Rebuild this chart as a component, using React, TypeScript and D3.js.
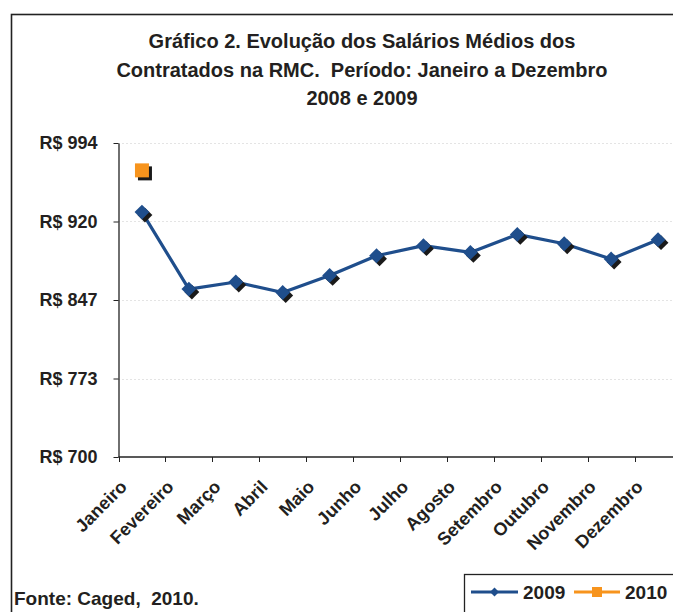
import React, { useRef, useEffect } from "react";
import * as d3 from "d3";

const months = [
  "Janeiro", "Fevereiro", "Março", "Abril", "Maio", "Junho",
  "Julho", "Agosto", "Setembro", "Outubro", "Novembro", "Dezembro",
];
const salarios2009 = [929, 857, 863.6, 853.8, 869.8, 888.2, 897.6, 891.3, 908.1, 899.4, 885.1, 903.2];
const salarios2010 = [968];
const yTicks = [700, 773.4, 846.8, 920.2, 993.6];
const titleLines = [
  "Gráfico 2. Evolução dos Salários Médios dos",
  "Contratados na RMC.  Período: Janeiro a Dezembro",
  "2008 e 2009",
];
const seriesNames = ["2009", "2010"];

const FONT = "'Liberation Sans', Arial, Helvetica, sans-serif";
const BLUE = "#1f4e8c";
const ORANGE = "#f7941d";
const SHADOW = "#1a1a1a";
const INK = "#231f20";

const App: React.FC = () => {
  const svgRef = useRef<SVGSVGElement>(null);

  useEffect(() => {
    const svg = d3.select(svgRef.current);
    svg.selectAll("*").remove();

    const width = 673;
    const plot = { left: 118.5, right: 681.5, top: 143, bottom: 457 };

    // outer frame
    svg.append("rect")
      .attr("x", 11.5).attr("y", 14.5)
      .attr("width", 720).attr("height", 700)
      .attr("fill", "none").attr("stroke", "#222").attr("stroke-width", 1.6);

    // title
    svg.append("g")
      .selectAll("text")
      .data(titleLines)
      .enter()
      .append("text")
      .attr("x", 362)
      .attr("y", (d, i) => 48 + i * 28.5)
      .attr("text-anchor", "middle")
      .attr("font-family", FONT)
      .attr("font-weight", "bold")
      .attr("font-size", "20px")
      .attr("fill", INK)
      .style("white-space", "pre")
      .text((d) => d);

    const x = d3.scaleBand<string>().domain(months).range([plot.left, plot.right]).padding(0);
    const y = d3.scaleLinear().domain([700, 993.6]).range([plot.bottom, plot.top]);
    const cx = (m: string) => (x(m) || 0) + x.bandwidth() / 2;

    // grid lines (dotted)
    svg.append("g")
      .selectAll("line")
      .data(yTicks.slice(1))
      .enter()
      .append("line")
      .attr("x1", plot.left).attr("x2", width)
      .attr("y1", (d) => Math.round(y(d)) + 0.5)
      .attr("y2", (d) => Math.round(y(d)) + 0.5)
      .attr("stroke", "#c8c8c8")
      .attr("stroke-dasharray", "1,3");

    // y axis
    const yAxis = svg.append("g")
      .attr("transform", `translate(${plot.left},0)`)
      .call(
        d3.axisLeft(y)
          .tickValues(yTicks)
          .tickSize(5)
          .tickSizeOuter(0)
          .tickPadding(16)
          .tickFormat((d) => `R$ ${Math.round(+d)}`)
      );
    yAxis.select(".domain").attr("stroke", "#222").attr("stroke-width", 1.3);
    yAxis.selectAll(".tick line").attr("stroke", "#222");
    yAxis.selectAll("text")
      .attr("font-family", FONT)
      .attr("font-weight", "bold")
      .attr("font-size", "18px")
      .attr("fill", INK);

    // x axis
    const xAxis = svg.append("g");
    xAxis.append("line")
      .attr("x1", plot.left).attr("x2", width)
      .attr("y1", plot.bottom).attr("y2", plot.bottom)
      .attr("stroke", "#222").attr("stroke-width", 1.3);
    xAxis.selectAll(".xtick")
      .data(months)
      .enter()
      .append("line")
      .attr("class", "xtick")
      .attr("x1", (d) => Math.round(x(d) || 0) + 0.5)
      .attr("x2", (d) => Math.round(x(d) || 0) + 0.5)
      .attr("y1", plot.bottom).attr("y2", plot.bottom + 5)
      .attr("stroke", "#222");
    xAxis.selectAll(".xlabel")
      .data(months)
      .enter()
      .append("text")
      .attr("class", "xlabel")
      .attr("transform", (d) => `translate(${cx(d) - 14},${plot.bottom + 31}) rotate(-45)`)
      .attr("text-anchor", "end")
      .attr("font-family", FONT)
      .attr("font-weight", "bold")
      .attr("font-size", "18px")
      .attr("fill", INK)
      .text((d) => d);

    // 2009 line
    const pts2009 = salarios2009.map((v, i) => [cx(months[i]), y(v)] as [number, number]);
    svg.append("path")
      .attr("d", d3.line()(pts2009))
      .attr("fill", "none")
      .attr("stroke", BLUE)
      .attr("stroke-width", 3.2)
      .attr("stroke-linejoin", "round");

    const diamond = d3.symbol().type(d3.symbolSquare).size(110);
    const markers = svg.append("g");
    pts2009.forEach(([px, py]) => {
      markers.append("path")
        .attr("d", diamond())
        .attr("transform", `translate(${px + 3},${py + 3}) rotate(45)`)
        .attr("fill", SHADOW);
      markers.append("path")
        .attr("d", diamond())
        .attr("transform", `translate(${px},${py}) rotate(45)`)
        .attr("fill", BLUE);
    });

    // 2010 (only January)
    const square = d3.symbol().type(d3.symbolSquare).size(196);
    salarios2010.forEach((v, i) => {
      const px = cx(months[i]);
      const py = y(v);
      markers.append("path")
        .attr("d", square())
        .attr("transform", `translate(${px + 3},${py + 3})`)
        .attr("fill", SHADOW);
      markers.append("path")
        .attr("d", square())
        .attr("transform", `translate(${px},${py})`)
        .attr("fill", ORANGE);
    });

    // source note
    svg.append("text")
      .attr("x", 14).attr("y", 605)
      .attr("font-family", FONT)
      .attr("font-weight", "bold")
      .attr("font-size", "19px")
      .attr("fill", INK)
      .style("white-space", "pre")
      .text("Fonte: Caged,  2010.");

    // legend
    const legend = svg.append("g");
    legend.append("rect")
      .attr("x", 464.5).attr("y", 574.5)
      .attr("width", 260).attr("height", 60)
      .attr("fill", "white").attr("stroke", "#222").attr("stroke-width", 1.3);
    const legendItems = [
      { name: seriesNames[0], color: BLUE, x0: 471, x1: 518, tx: 523, sym: d3.symbol().type(d3.symbolSquare).size(40), rot: 45 },
      { name: seriesNames[1], color: ORANGE, x0: 574, x1: 620, tx: 625, sym: d3.symbol().type(d3.symbolSquare).size(100), rot: 0 },
    ];
    legendItems.forEach((it) => {
      legend.append("line")
        .attr("x1", it.x0).attr("x2", it.x1)
        .attr("y1", 592).attr("y2", 592)
        .attr("stroke", it.color).attr("stroke-width", 3.2);
      legend.append("path")
        .attr("d", it.sym())
        .attr("transform", `translate(${(it.x0 + it.x1) / 2},592) rotate(${it.rot})`)
        .attr("fill", it.color);
      legend.append("text")
        .attr("x", it.tx).attr("y", 598.5)
        .attr("font-family", FONT)
        .attr("font-weight", "bold")
        .attr("font-size", "19px")
        .attr("fill", INK)
        .text(it.name);
    });
  }, []);

  return (
    <svg
      ref={svgRef}
      width={673}
      height={612}
      style={{ position: "absolute", left: 0, top: 0, background: "white" }}
    />
  );
};

export default App;
